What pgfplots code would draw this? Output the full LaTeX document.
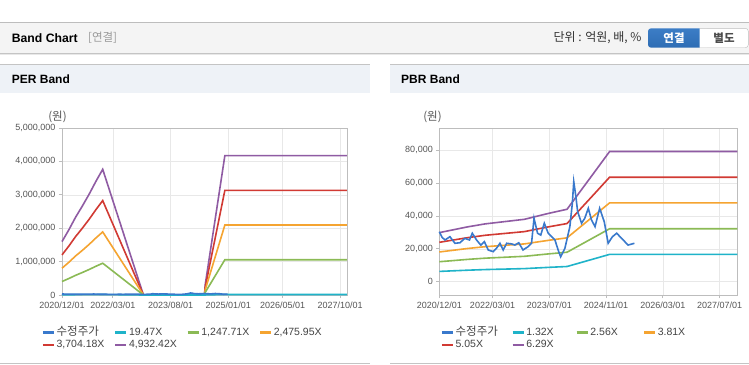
\documentclass[border=0pt]{standalone}
\usepackage{pgfplots}
\pgfplotsset{compat=1.18}
\usepackage{fontspec}
\setmainfont{Liberation Sans}
\newfontfamily\kr{Noto Sans CJK KR}
\definecolor{cPurple}{HTML}{8F5BA3}
\definecolor{cRed}{HTML}{D13A33}
\definecolor{cOrange}{HTML}{F5A431}
\definecolor{cGreen}{HTML}{8BBA55}
\definecolor{cCyan}{HTML}{1FB3C9}
\definecolor{cBlue}{HTML}{3979CC}
\definecolor{frameGray}{HTML}{BDBDBD}
\definecolor{gridGray}{HTML}{E8E8E8}
\definecolor{tickGray}{HTML}{555555}
\definecolor{legendGray}{HTML}{444444}
\definecolor{barFill}{HTML}{F4F4F4}
\definecolor{panelFill}{HTML}{EEF2F7}
\definecolor{lineGray}{HTML}{C4C4C4}
\definecolor{btnBlue}{HTML}{2E6DB4}
\definecolor{btnBlueTop}{HTML}{3C7DC6}
\definecolor{bracketGray}{HTML}{9A9A9A}

\pgfplotsset{
  bandaxis/.style={
    scale only axis, clip=false,
    axis line style={draw=frameGray, line width=0.8pt},
    grid=major, major grid style={draw=gridGray, line width=0.6pt},
    tick align=outside, tick pos=left, major tick length=3pt,
    tick style={draw=frameGray, line width=0.8pt},
    scaled y ticks=false,
    /pgf/number format/fixed,
    /pgf/number format/1000 sep={,},
    /pgf/number format/assume math mode=true,
    yticklabel style={font=\fontsize{9}{10}\selectfont, text=tickGray},
    xticklabel style={font=\fontsize{9}{10}\selectfont, text=tickGray},
    legend columns=4, legend cell align=left,
    legend style={draw=none, fill=none, inner sep=0pt, outer sep=0pt,
      font=\fontsize{10.5}{12}\selectfont, text=legendGray,
      column sep=0pt, row sep=0pt,
      nodes={inner sep=1.5pt, text height=7.6pt, text depth=2.2pt}},
    legend image code/.code={\draw[#1, line width=2.4pt] (0pt,0pt) -- (11pt,0pt);},
    every axis plot/.append style={line width=1.6pt, mark=none},
  }
}

\begin{document}
\begin{tikzpicture}
\useasboundingbox (0pt,0pt) rectangle (749pt,-364pt);
\fill[white] (0pt,0pt) rectangle (749pt,-364pt);
% top header bar
\fill[barFill] (0pt,-22.5pt) rectangle (749pt,-53pt);
\draw[draw=frameGray, line width=1pt] (0pt,-22.5pt) -- (749pt,-22.5pt);
\draw[draw=lineGray, line width=1pt] (0pt,-53pt) -- (749pt,-53pt);
\draw[draw=gridGray, line width=1pt] (0pt,-54.5pt) -- (749pt,-54.5pt);
\node[anchor=west, inner sep=0pt, font=\bfseries\fontsize{12.2}{14}\selectfont] at (11.7pt,-38pt) {Band Chart};
\node[anchor=west, inner sep=0pt, font=\kr\fontsize{11.5}{13}\selectfont, text=bracketGray] at (88pt,-38pt) {[연결]};
\node[anchor=east, inner sep=0pt, font=\kr\fontsize{12}{14}\selectfont, text=black!80] at (641.7pt,-38pt) {단위 : 억원, 배, \%};
\shade[top color=btnBlueTop, bottom color=btnBlue, rounded corners=3pt] (648pt,-28.3pt) rectangle (706pt,-47.7pt);
\fill[white] (699.5pt,-28.3pt) rectangle (707pt,-47.7pt);
\draw[draw=frameGray, fill=white, rounded corners=3pt] (699.5pt,-28.3pt) -- (748.3pt,-28.3pt) -- (748.3pt,-47.7pt) -- (699.5pt,-47.7pt);
\node[inner sep=0pt, font=\kr\bfseries\fontsize{11.5}{13}\selectfont, text=white] at (674pt,-38pt) {연결};
\node[inner sep=0pt, font=\kr\bfseries\fontsize{11.5}{13}\selectfont, text=black!70] at (724pt,-38pt) {별도};
% panel headers
\fill[panelFill] (0pt,-64pt) rectangle (370pt,-93pt);
\fill[panelFill] (390pt,-64pt) rectangle (749pt,-93pt);
\draw[draw=lineGray, line width=1pt] (0pt,-64pt) -- (370pt,-64pt);
\draw[draw=lineGray, line width=1pt] (390pt,-64pt) -- (749pt,-64pt);
\node[anchor=west, inner sep=0pt, font=\bfseries\fontsize{12}{14}\selectfont] at (11.7pt,-79.5pt) {PER Band};
\node[anchor=west, inner sep=0pt, font=\bfseries\fontsize{12}{14}\selectfont] at (401pt,-79.5pt) {PBR Band};
% bottom lines
\draw[draw=lineGray, line width=1pt] (0pt,-363.3pt) -- (370pt,-363.3pt);
\draw[draw=lineGray, line width=1pt] (390pt,-363.3pt) -- (749pt,-363.3pt);
% unit labels
\node[inner sep=0pt, font=\kr\fontsize{11.5}{13}\selectfont, text=tickGray] at (57.5pt,-117pt) {(원)};
\node[inner sep=0pt, font=\kr\fontsize{11.5}{13}\selectfont, text=tickGray] at (432.5pt,-117pt) {(원)};

% ---------------- PER Band ----------------
\begin{axis}[bandaxis, at={(62pt,-295pt)}, anchor=south west, width=285pt, height=167pt,
  xmin=0, xmax=84, ymin=0, ymax=5000000,
  xtick={0,15,32,49,65,82},
  xticklabels={2020/12/01,2022/03/01,2023/08/01,2025/01/01,2026/05/01,2027/10/01},
  ytick={0,1000000,2000000,3000000,4000000,5000000},
  legend style={at={(-0.0712,-0.1856)}, anchor=north west}]
\addlegendimage{cBlue}\addlegendentry{\makebox[56pt][l]{\kr\fontsize{11.5}{12}\selectfont 수정주가}}
\addlegendimage{cCyan}\addlegendentry{\makebox[56pt][l]{19.47X}}
\addlegendimage{cGreen}\addlegendentry{\makebox[56pt][l]{1,247.71X}}
\addlegendimage{cOrange}\addlegendentry{\makebox[56pt][l]{2,475.95X}}
\addlegendimage{cRed}\addlegendentry{\makebox[56pt][l]{3,704.18X}}
\addlegendimage{cPurple}\addlegendentry{\makebox[56pt][l]{4,932.42X}}
\addplot[cPurple, forget plot] coordinates {(0,1598104) (2,1948306) (4,2328102) (6,2663507) (8,3018641) (10,3403370) (12,3763436) (24,0) (42,0) (42.2,300878) (48,4172827) (84,4172827)};
\addplot[cRed, forget plot] coordinates {(0,1200154) (2,1463151) (4,1748373) (6,2000257) (8,2266958) (10,2555884) (12,2826289) (24,0) (42,0) (42.2,225955) (48,3133736) (84,3133736)};
\addplot[cOrange, forget plot] coordinates {(0,802208) (2,978000) (4,1168648) (6,1337013) (8,1515281) (10,1708406) (12,1889150) (24,0) (42,0) (42.2,151033) (48,2094654) (84,2094654)};
\addplot[cGreen, forget plot] coordinates {(0,404258) (2,492845) (4,588919) (6,673763) (8,763599) (10,860920) (12,951983) (24,0) (42,0) (42.2,76110) (48,1055563) (84,1055563)};
\addplot[cCyan, forget plot] coordinates {(0,6308) (2,7691) (4,9190) (6,10514) (8,11916) (10,13434) (12,14856) (24,0) (42,0) (42.2,1188) (48,16472) (84,16472)};
\addplot[cBlue, forget plot] coordinates {(0,30400) (1.6,25400) (3,27400) (4.4,23400) (5.8,23700) (7.2,26400) (8.5,25400) (9.3,29500) (10.5,25400) (11.7,22300) (12.7,24400) (13.8,19300) (15.2,18300) (16.1,20300) (17.1,23400) (18,19300) (19,23400) (20.4,23000) (21.3,22300) (22.4,23700) (23.6,19300) (25,21300) (26,23400) (26.7,38600) (27.7,29500) (28.6,28400) (29.6,35600) (30.7,29500) (31.7,27400) (32.6,25400) (33.5,19300) (34.2,15200) (35.4,20300) (36.8,33500) (37.5,47700) (37.9,60900) (38.5,51800) (39,42600) (40.1,35600) (41,38600) (42,44700) (42.9,37600) (43.9,33500) (45.2,44700) (46.5,36500) (47.6,23400) (48.8,27400)};
\end{axis}

% ---------------- PBR Band ----------------
\begin{axis}[bandaxis, at={(439.3pt,-295pt)}, anchor=south west, width=298pt, height=166.7pt,
  xmin=0, xmax=84, ymin=-8100, ymax=93400,
  xtick={0,15,31,47,63,79},
  xticklabels={2020/12/01,2022/03/01,2023/07/01,2024/11/01,2026/03/01,2027/07/01},
  ytick={0,20000,40000,60000,80000},
  legend style={at={(0.0047,-0.186)}, anchor=north west}]
\addlegendimage{cBlue}\addlegendentry{\makebox[54.3pt][l]{\kr\fontsize{11.5}{12}\selectfont 수정주가}}
\addlegendimage{cCyan}\addlegendentry{\makebox[47.7pt][l]{1.32X}}
\addlegendimage{cGreen}\addlegendentry{\makebox[51pt][l]{2.56X}}
\addlegendimage{cOrange}\addlegendentry{\makebox[51pt][l]{3.81X}}
\addlegendimage{cRed}\addlegendentry{\makebox[54.3pt][l]{5.05X}}
\addlegendimage{cPurple}\addlegendentry{\makebox[47.7pt][l]{6.29X}}
\addplot[cCyan, forget plot] coordinates {(0,6270) (4,6640) (8,7009) (13,7392) (18,7656) (24,7973) (28,8422) (31,8752) (36,9253) (40,11708) (44,14164) (48,16632) (84,16632)};
\addplot[cGreen, forget plot] coordinates {(0,12160) (4,12877) (8,13594) (13,14336) (18,14848) (24,15462) (28,16333) (31,16973) (36,17946) (40,22707) (44,27469) (48,32256) (84,32256)};
\addplot[cOrange, forget plot] coordinates {(0,18098) (4,19164) (8,20231) (13,21336) (18,22098) (24,23012) (28,24308) (31,25260) (36,26708) (40,33795) (44,40881) (48,48006) (84,48006)};
\addplot[cRed, forget plot] coordinates {(0,23988) (4,25402) (8,26816) (13,28280) (18,29290) (24,30502) (28,32219) (31,33482) (36,35401) (40,44794) (44,54187) (48,63630) (84,63630)};
\addplot[cPurple, forget plot] coordinates {(0,29878) (4,31639) (8,33400) (13,35224) (18,36482) (24,37992) (28,40130) (31,41703) (36,44093) (40,55792) (44,67492) (48,79254) (84,79254)};
\addplot[cBlue, forget plot] coordinates {(0,30400) (0.8,27000) (1.6,25400) (3,27400) (4.4,23400) (5.8,23700) (7.2,26400) (8.5,25400) (9.3,29500) (10.5,25400) (11.7,22300) (12.7,24400) (13.8,19300) (15.2,18300) (16.1,20300) (17.1,23400) (18,19300) (19,23400) (20.4,23000) (21.3,22300) (22.4,23700) (23.6,19300) (25,21300) (26,23400) (26.7,38600) (27.7,29500) (28.6,28400) (29.6,35600) (30.7,29500) (31.7,27400) (32.6,25400) (33.5,19300) (34.2,15200) (35.4,20300) (36.8,33500) (37.5,47700) (37.9,60900) (38.5,51800) (39,42600) (40.1,35600) (41,38600) (42,44700) (42.9,37600) (43.9,33500) (45.2,44700) (46.5,36500) (47.6,23400) (48.8,27400) (50,29500) (51.4,26400) (53.2,22300) (55,23400)};
\end{axis}
\end{tikzpicture}
\end{document}
